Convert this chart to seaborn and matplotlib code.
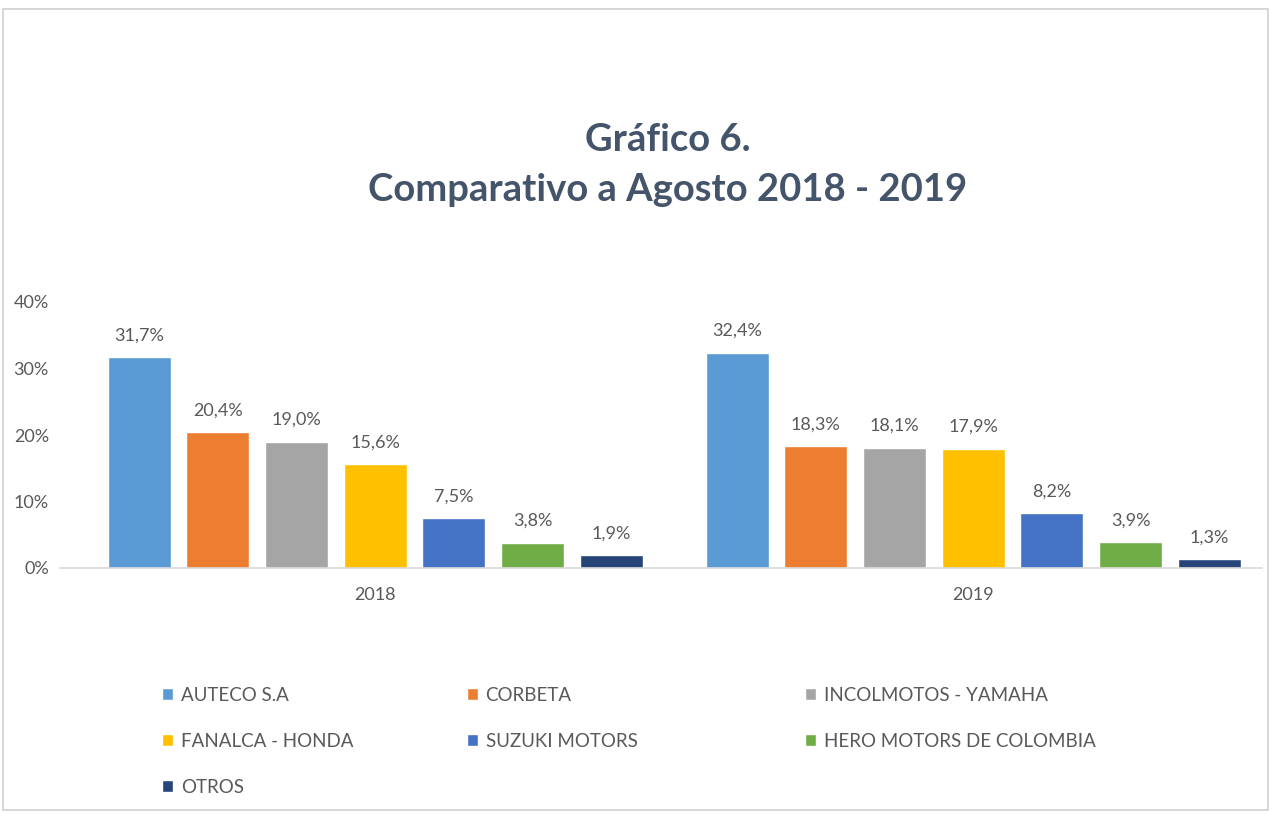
import matplotlib
matplotlib.use("Agg")
import matplotlib.pyplot as plt
import matplotlib.patches as mpatches
import pandas as pd
import seaborn as sns

years = ["2018", "2019"]
brands = ["AUTECO S.A", "CORBETA", "INCOLMOTOS - YAMAHA", "FANALCA - HONDA",
          "SUZUKI MOTORS", "HERO MOTORS DE COLOMBIA", "OTROS"]
share_2018 = [31.7, 20.4, 19.0, 15.6, 7.5, 3.8, 1.9]
share_2019 = [32.4, 18.3, 18.1, 17.9, 8.2, 3.9, 1.3]
colors = ["#5B9BD5", "#ED7D31", "#A5A5A5", "#FFC000", "#4472C4", "#70AD47", "#264478"]

df = pd.DataFrame({
    "year": [years[0]] * len(brands) + [years[1]] * len(brands),
    "brand": brands * 2,
    "share": share_2018 + share_2019,
})

sns.set_theme(style="white")
plt.rcParams["font.family"] = ["Lato", "DejaVu Sans"]
txt = "#595959"

fig = plt.figure(figsize=(12.72, 8.14), dpi=100)
ax = fig.add_axes([60 / 1272, (814 - 568) / 814, 1202 / 1272, 266 / 814])

sns.barplot(data=df, x="year", y="share", hue="brand", hue_order=brands,
            palette=colors, saturation=1, width=0.921, gap=0.2, ax=ax)

for cont in ax.containers:
    ax.bar_label(cont, labels=[f"{b.get_height():.1f}%".replace(".", ",") for b in cont],
                 padding=10, fontsize=13, color=txt)

ax.set_ylim(0, 40)
ax.set_xlim(-0.527, 1.483)
ax.set_yticks([0, 10, 20, 30, 40])
ax.set_yticklabels([f"{t}%" for t in [0, 10, 20, 30, 40]])
ax.tick_params(axis="both", length=0, labelsize=13, labelcolor=txt)
ax.tick_params(axis="x", pad=14)
ax.tick_params(axis="y", pad=8)
ax.set_xlabel("")
ax.set_ylabel("")
for s in ["top", "right", "left"]:
    ax.spines[s].set_visible(False)
ax.spines["bottom"].set_color("#D9D9D9")
ax.spines["bottom"].set_linewidth(1.2)

# legend laid out in rows like Excel: one legend per column
handles, labels = ax.get_legend_handles_labels()
ax.get_legend().remove()
columns = [([0, 3, 6], 145), ([1, 4], 450), ([2, 5], 788)]
for idx, x0 in columns:
    fig.legend([handles[i] for i in idx], [labels[i] for i in idx],
               loc="upper left", bbox_to_anchor=(x0 / 1272, 1 - 670 / 814),
               frameon=False, fontsize=13.5, labelcolor=txt,
               handlelength=0.6, handleheight=0.6, handletextpad=0.4,
               labelspacing=1.55)

fig.text(668 / 1272, 1 - 140 / 814, "Gráfico 6.", ha="center", va="center",
         fontsize=27.5, fontweight="bold", color="#44546A")
fig.text(668 / 1272, 1 - 190 / 814, "Comparativo a Agosto 2018 - 2019", ha="center",
         va="center", fontsize=27.5, fontweight="bold", color="#44546A")

fig.patches.append(mpatches.Rectangle((3 / 1272, 4 / 814), 1265 / 1272, 801 / 814,
                                      transform=fig.transFigure, fill=False,
                                      edgecolor="#D0D0D0", linewidth=1.2))

fig.savefig("out.png", dpi=100)
